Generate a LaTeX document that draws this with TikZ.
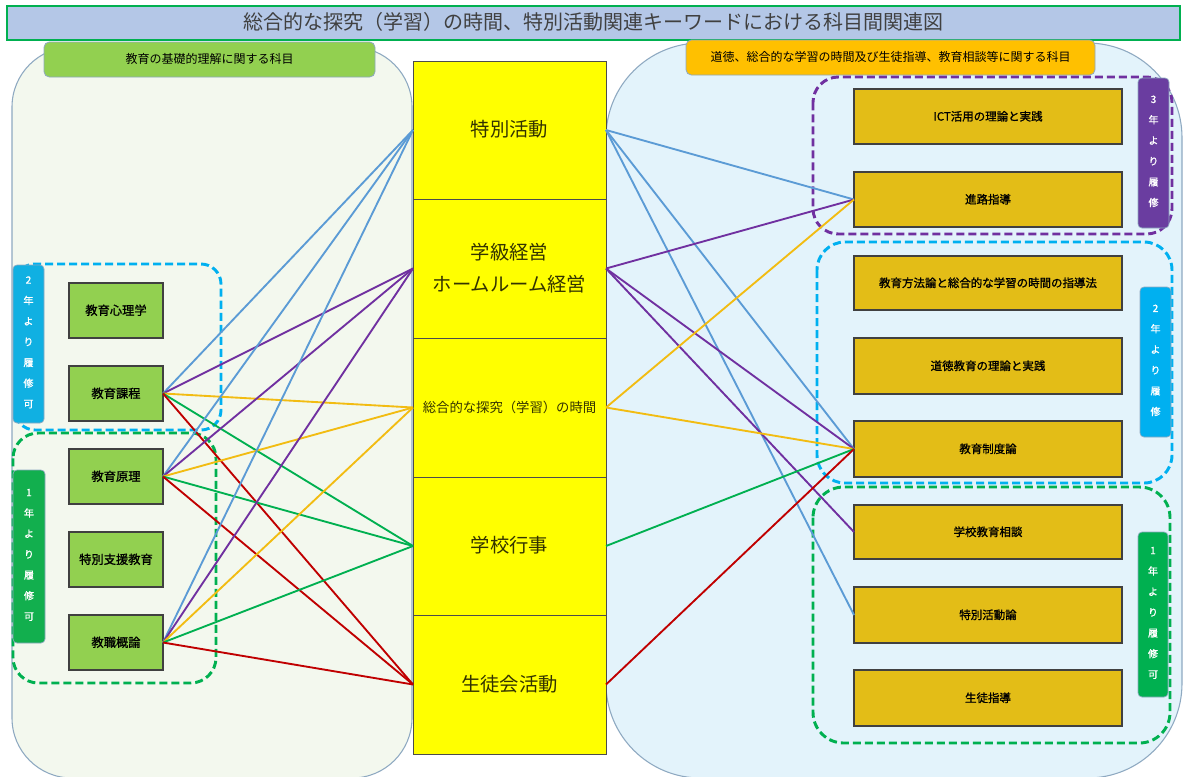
\documentclass[tikz,border=0pt]{standalone}
\usepackage{fontspec}
\setmainfont{Noto Sans CJK JP}
\newfontfamily\jpb[FakeBold=1.2]{Noto Sans CJK JP}
\usetikzlibrary{fit}
\newcommand{\vt}[1]{\raisebox{-0.42em}[0.88em][0.12em]{#1}}
\newcommand{\vs}[1]{\raisebox{-0.22em}[0.88em][0.12em]{#1}}
\definecolor{titlefill}{HTML}{B4C7E7}
\definecolor{titleedge}{HTML}{00B050}
\definecolor{leftreg}{HTML}{F3F8EE}
\definecolor{rightreg}{HTML}{E3F3FB}
\definecolor{regedge}{HTML}{8EA9C1}
\definecolor{lgreen}{HTML}{92D050}
\definecolor{hdrorange}{HTML}{FFC000}
\definecolor{gold}{HTML}{E3BD17}
\definecolor{yel}{HTML}{FFFF00}
\definecolor{cpurple}{HTML}{7030A0}
\definecolor{ccyan}{HTML}{00B0F0}
\definecolor{cgreen}{HTML}{00B050}
\definecolor{cblue}{HTML}{5B9BD5}
\definecolor{cyellow}{HTML}{F2BC12}
\definecolor{cred}{HTML}{C00000}
\definecolor{labpurple}{HTML}{6A3DA0}
\definecolor{labcyan}{HTML}{10B0E2}
\definecolor{labgreen}{HTML}{12AF4E}
\definecolor{ctext}{HTML}{333300}
\begin{document}
\begin{tikzpicture}[x=0.75pt,y=-0.75pt,
  fitbox/.style={inner sep=0pt,outer sep=0pt},
  hdr/.style={fitbox,draw=regedge,line width=0.6pt,rounded corners=4pt,font=\fontsize{9}{11}\selectfont},
  lbox/.style={fitbox,draw=black!75,line width=0.8pt,fill=lgreen,font=\jpb\fontsize{9.2}{11}\selectfont},
  rbox/.style={fitbox,draw=black!75,line width=0.8pt,fill=gold,font=\jpb\fontsize{8.6}{11}\selectfont},
  seg/.style={fitbox,draw=black!70,line width=0.7pt,fill=yel,text=ctext,align=center,font=\fontsize{14.5}{23.5}\selectfont},
  grp/.style={dashed,dash pattern=on 6pt off 3pt,line width=2.2pt},
  lab/.style={fitbox,draw=regedge,line width=0.5pt,rounded corners=3pt,text=white,align=center,font=\jpb\fontsize{7.5}{15.5}\selectfont},
  conn/.style={line width=1.4pt}
]
\useasboundingbox (0,0) rectangle (1184,776);
\clip (0,0) rectangle (1184,776);
\fill[white] (0,0) rectangle (1184,776);

% regions
\draw[fill=leftreg,draw=regedge,line width=0.8pt,rounded corners=45pt] (12,47) rectangle (412,778);
\draw[fill=rightreg,draw=regedge,line width=0.8pt,rounded corners=71pt] (606,43) rectangle (1182,778);

% title
\node[fitbox,draw=titleedge,line width=1.5pt,fill=titlefill,text=black!75,font=\fontsize{15}{18}\selectfont,fit={(7,6)(1180,40)}] (title) {\raisebox{-0.36em}[0.88em][0.12em]{総合的な探究（学習）の時間、特別活動関連キーワードにおける科目間関連図}};

% headers
\node[hdr,fill=lgreen,fit={(44,42)(375,77)}] (hleft) {\vt{教育の基礎的理解に関する科目}};
\node[hdr,fill=hdrorange,fit={(686,40)(1095,75)}] (hright) {\vt{道徳、総合的な学習の時間及び生徒指導、教育相談等に関する科目}};

% left groups
\draw[grp,draw=ccyan,rounded corners=15pt] (15,264) rectangle (221,430);
\draw[grp,draw=cgreen,rounded corners=19pt] (13,433) rectangle (216,683);
\node[lab,fill=labcyan,fit={(13,265)(44,423)}] (l2) {\vs{2}\\\vs{年}\\\vs{よ}\\\vs{り}\\\vs{履}\\\vs{修}\\\vs{可}};
\node[lab,fill=labgreen,fit={(13,470)(45,643)}] (l1) {\vs{1}\\\vs{年}\\\vs{よ}\\\vs{り}\\\vs{履}\\\vs{修}\\\vs{可}};

% right groups
\draw[grp,draw=cpurple,rounded corners=19pt] (813,77) rectangle (1172,234);
\draw[grp,draw=ccyan,rounded corners=21pt] (817,242) rectangle (1172,483);
\draw[grp,draw=cgreen,rounded corners=23pt] (813,487) rectangle (1170,743);
\node[lab,fill=labpurple,fit={(1138,78)(1169,228)}] (r3) {\vs{3}\\\vs{年}\\\vs{よ}\\\vs{り}\\\vs{履}\\\vs{修}};
\node[lab,fill=ccyan,fit={(1140,287)(1171,437)}] (r2) {\vs{2}\\\vs{年}\\\vs{よ}\\\vs{り}\\\vs{履}\\\vs{修}};
\node[lab,fill=cgreen,fit={(1138,532)(1168,697)}] (r1) {\vs{1}\\\vs{年}\\\vs{よ}\\\vs{り}\\\vs{履}\\\vs{修}\\\vs{可}};

% left boxes
\node[lbox,fit={(69,283)(163,338)}] (shinri) {\vt{教育心理学}};
\node[lbox,fit={(69,366)(163,421)}] (katei) {\vt{教育課程}};
\node[lbox,fit={(69,449)(163,504)}] (genri) {\vt{教育原理}};
\node[lbox,fit={(69,532)(163,587)}] (tokushi) {\vt{特別支援教育}};
\node[lbox,fit={(69,615)(163,670)}] (gairon) {\vt{教職概論}};

% right boxes
\node[rbox,fit={(854,89)(1122,144)}] (ict) {\vt{ICT活用の理論と実践}};
\node[rbox,fit={(854,172)(1122,227)}] (shinro) {\vt{進路指導}};
\node[rbox,fit={(854,256)(1122,310)}] (houhou) {\vt{教育方法論と総合的な学習の時間の指導法}};
\node[rbox,fit={(854,338)(1122,394)}] (doutoku) {\vt{道徳教育の理論と実践}};
\node[rbox,fit={(854,421)(1122,477)}] (seido) {\vt{教育制度論}};
\node[rbox,fit={(854,505)(1122,559)}] (soudan) {\vt{学校教育相談}};
\node[rbox,fit={(854,587)(1122,643)}] (tokkatsuron) {\vt{特別活動論}};
\node[rbox,fit={(854,670)(1122,726)}] (seito) {\vt{生徒指導}};

% centre column
\node[seg,fit={(413,61)(606,199)}] (tokkatsu) {\vt{特別活動}};
\node[seg,fit={(413,199)(606,338)}] (gakkyu) {\vt{学級経営}\\\vt{ホームルーム経営}};
\node[seg,font=\fontsize{10}{12}\selectfont,fit={(413,338)(606,477)}] (sougou) {\vt{総合的な探究（学習）の時間}};
\node[seg,fit={(413,477)(606,615)}] (gyouji) {\vt{学校行事}};
\node[seg,fit={(413,615)(606,754)}] (seitokai) {\vt{生徒会活動}};

% left connections
\foreach \s in {katei,genri,gairon}{
  \draw[conn,cblue] (\s.east) -- (tokkatsu.west);
  \draw[conn,cpurple] (\s.east) -- (gakkyu.west);
  \draw[conn,cyellow] (\s.east) -- (sougou.west);
  \draw[conn,cgreen] (\s.east) -- (gyouji.west);
  \draw[conn,cred] (\s.east) -- (seitokai.west);
}

% right connections
\draw[conn,cblue] (tokkatsu.east) -- (shinro.west);
\draw[conn,cblue] (tokkatsu.east) -- (seido.west);
\draw[conn,cblue] (tokkatsu.east) -- (tokkatsuron.west);
\draw[conn,cpurple] (gakkyu.east) -- (shinro.west);
\draw[conn,cpurple] (gakkyu.east) -- (seido.west);
\draw[conn,cpurple] (gakkyu.east) -- (soudan.west);
\draw[conn,cyellow] (sougou.east) -- (shinro.west);
\draw[conn,cyellow] (sougou.east) -- (seido.west);
\draw[conn,cgreen] (gyouji.east) -- (seido.west);
\draw[conn,cred] (seitokai.east) -- (seido.west);
\end{tikzpicture}
\end{document}
